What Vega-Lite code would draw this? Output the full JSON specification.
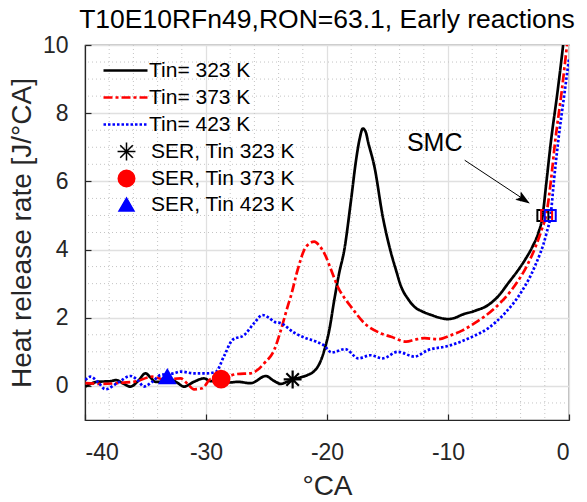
{
  "$schema": "https://vega.github.io/schema/vega-lite/v6.json",
  "width": 484,
  "height": 375,
  "autosize": "none",
  "padding": {"left": 85, "top": 45, "right": 18, "bottom": 82},
  "title": {"text": "T10E10RFn49,RON=63.1, Early reactions", "fontSize": 26.5, "fontWeight": "normal", "color": "#000000", "font": "Liberation Sans", "offset": 1, "anchor": "middle"},
  "config": {
    "font": "Liberation Sans",
    "view": {"stroke": "#262626", "strokeWidth": 1.2},
    "axis": {"labelFont": "Liberation Sans", "labelFontSize": 23, "labelColor": "#262626", "titleFont": "Liberation Sans", "titleFontWeight": "normal", "titleColor": "#262626", "domainColor": "#262626", "domainWidth": 1.2, "tickColor": "#262626", "tickSize": -6, "tickWidth": 1.2, "gridColor": "#e0e0e0", "gridWidth": 1.3},
    "axisX": {"tickCount": 5, "labelPadding": 27, "titlePadding": 8, "titleFontSize": 28, "labelExpr": "replace(datum.label, '\u2212', '-')"},
    "axisY": {"tickCount": 6, "labelPadding": 23, "titlePadding": 6, "titleFontSize": 28},
    "legend": {"labelFont": "Liberation Sans", "labelFontSize": 21, "labelColor": "#000000", "padding": 0}
  },
  "datasets": {
    "gx": [{"x": -38}, {"x": -36}, {"x": -34}, {"x": -32}, {"x": -28}, {"x": -26}, {"x": -24}, {"x": -22}, {"x": -18}, {"x": -16}, {"x": -14}, {"x": -12}, {"x": -8}, {"x": -6}, {"x": -4}, {"x": -2}],
    "gy": [{"y": -0.5}, {"y": 0.5}, {"y": 1}, {"y": 1.5}, {"y": 2.5}, {"y": 3}, {"y": 3.5}, {"y": 4.5}, {"y": 5}, {"y": 5.5}, {"y": 6.5}, {"y": 7}, {"y": 7.5}, {"y": 8.5}, {"y": 9}, {"y": 9.5}],
    "lines": [
      {"s": "Tin= 323 K", "x": -39.97, "y": -0.02},
      {"s": "Tin= 323 K", "x": -39.0, "y": 0.12},
      {"s": "Tin= 323 K", "x": -37.9, "y": 0.14},
      {"s": "Tin= 323 K", "x": -37.4, "y": 0.17},
      {"s": "Tin= 323 K", "x": -36.9, "y": 0.08},
      {"s": "Tin= 323 K", "x": -36.24, "y": -0.02},
      {"s": "Tin= 323 K", "x": -35.6, "y": 0.15},
      {"s": "Tin= 323 K", "x": -35.0, "y": 0.37},
      {"s": "Tin= 323 K", "x": -34.6, "y": 0.25},
      {"s": "Tin= 323 K", "x": -34.17, "y": 0.12},
      {"s": "Tin= 323 K", "x": -33.6, "y": 0.12},
      {"s": "Tin= 323 K", "x": -33.0, "y": 0.2},
      {"s": "Tin= 323 K", "x": -32.4, "y": 0.1},
      {"s": "Tin= 323 K", "x": -31.82, "y": -0.02},
      {"s": "Tin= 323 K", "x": -31.0, "y": 0.12},
      {"s": "Tin= 323 K", "x": -30.17, "y": 0.22},
      {"s": "Tin= 323 K", "x": -29.61, "y": 0.14},
      {"s": "Tin= 323 K", "x": -28.8, "y": 0.13},
      {"s": "Tin= 323 K", "x": -28.0, "y": 0.1},
      {"s": "Tin= 323 K", "x": -27.4, "y": 0.12},
      {"s": "Tin= 323 K", "x": -26.3, "y": 0.08},
      {"s": "Tin= 323 K", "x": -25.05, "y": 0.29},
      {"s": "Tin= 323 K", "x": -24.4, "y": 0.15},
      {"s": "Tin= 323 K", "x": -23.81, "y": 0.06},
      {"s": "Tin= 323 K", "x": -23.3, "y": 0.12},
      {"s": "Tin= 323 K", "x": -22.84, "y": 0.19},
      {"s": "Tin= 323 K", "x": -22.2, "y": 0.25},
      {"s": "Tin= 323 K", "x": -21.6, "y": 0.32},
      {"s": "Tin= 323 K", "x": -21.1, "y": 0.42},
      {"s": "Tin= 323 K", "x": -20.77, "y": 0.56},
      {"s": "Tin= 323 K", "x": -20.5, "y": 0.75},
      {"s": "Tin= 323 K", "x": -20.22, "y": 1.05},
      {"s": "Tin= 323 K", "x": -19.81, "y": 1.64},
      {"s": "Tin= 323 K", "x": -19.4, "y": 2.52},
      {"s": "Tin= 323 K", "x": -19.0, "y": 3.3},
      {"s": "Tin= 323 K", "x": -18.57, "y": 3.99},
      {"s": "Tin= 323 K", "x": -18.01, "y": 5.46},
      {"s": "Tin= 323 K", "x": -17.6, "y": 6.62},
      {"s": "Tin= 323 K", "x": -17.3, "y": 7.25},
      {"s": "Tin= 323 K", "x": -17.04, "y": 7.55},
      {"s": "Tin= 323 K", "x": -16.8, "y": 7.45},
      {"s": "Tin= 323 K", "x": -16.6, "y": 7.15},
      {"s": "Tin= 323 K", "x": -16.08, "y": 6.43},
      {"s": "Tin= 323 K", "x": -15.39, "y": 4.96},
      {"s": "Tin= 323 K", "x": -14.7, "y": 3.89},
      {"s": "Tin= 323 K", "x": -14.3, "y": 3.4},
      {"s": "Tin= 323 K", "x": -13.87, "y": 2.91},
      {"s": "Tin= 323 K", "x": -13.3, "y": 2.55},
      {"s": "Tin= 323 K", "x": -12.77, "y": 2.32},
      {"s": "Tin= 323 K", "x": -12.1, "y": 2.18},
      {"s": "Tin= 323 K", "x": -11.38, "y": 2.08},
      {"s": "Tin= 323 K", "x": -10.6, "y": 1.99},
      {"s": "Tin= 323 K", "x": -10.0, "y": 1.96},
      {"s": "Tin= 323 K", "x": -9.4, "y": 2.0},
      {"s": "Tin= 323 K", "x": -8.9, "y": 2.08},
      {"s": "Tin= 323 K", "x": -7.8, "y": 2.2},
      {"s": "Tin= 323 K", "x": -6.69, "y": 2.37},
      {"s": "Tin= 323 K", "x": -5.8, "y": 2.65},
      {"s": "Tin= 323 K", "x": -5.03, "y": 3.01},
      {"s": "Tin= 323 K", "x": -4.3, "y": 3.35},
      {"s": "Tin= 323 K", "x": -3.65, "y": 3.69},
      {"s": "Tin= 323 K", "x": -3.0, "y": 4.1},
      {"s": "Tin= 323 K", "x": -2.54, "y": 4.48},
      {"s": "Tin= 323 K", "x": -2.2, "y": 4.95},
      {"s": "Tin= 323 K", "x": -1.86, "y": 6.0},
      {"s": "Tin= 323 K", "x": -1.5, "y": 7.15},
      {"s": "Tin= 323 K", "x": -0.94, "y": 8.65},
      {"s": "Tin= 323 K", "x": -0.5, "y": 9.95},
      {"s": "Tin= 323 K", "x": -0.3, "y": 10.6},
      {"s": "Tin= 373 K", "x": -39.97, "y": 0.08},
      {"s": "Tin= 373 K", "x": -38.73, "y": 0.06},
      {"s": "Tin= 373 K", "x": -37.34, "y": 0.08},
      {"s": "Tin= 373 K", "x": -35.68, "y": 0.14},
      {"s": "Tin= 373 K", "x": -34.9, "y": 0.24},
      {"s": "Tin= 373 K", "x": -34.44, "y": 0.27},
      {"s": "Tin= 373 K", "x": -33.48, "y": 0.19},
      {"s": "Tin= 373 K", "x": -32.1, "y": 0.22},
      {"s": "Tin= 373 K", "x": -31.5, "y": 0.05},
      {"s": "Tin= 373 K", "x": -30.99, "y": -0.1},
      {"s": "Tin= 373 K", "x": -30.3, "y": -0.07},
      {"s": "Tin= 373 K", "x": -29.61, "y": 0.2},
      {"s": "Tin= 373 K", "x": -28.8, "y": 0.22},
      {"s": "Tin= 373 K", "x": -27.4, "y": 0.35},
      {"s": "Tin= 373 K", "x": -26.3, "y": 0.37},
      {"s": "Tin= 373 K", "x": -25.7, "y": 0.48},
      {"s": "Tin= 373 K", "x": -25.2, "y": 0.66},
      {"s": "Tin= 373 K", "x": -24.37, "y": 1.05},
      {"s": "Tin= 373 K", "x": -23.81, "y": 1.64},
      {"s": "Tin= 373 K", "x": -23.26, "y": 2.32},
      {"s": "Tin= 373 K", "x": -22.98, "y": 2.64},
      {"s": "Tin= 373 K", "x": -22.43, "y": 3.4},
      {"s": "Tin= 373 K", "x": -21.74, "y": 4.08},
      {"s": "Tin= 373 K", "x": -21.05, "y": 4.23},
      {"s": "Tin= 373 K", "x": -20.6, "y": 4.1},
      {"s": "Tin= 373 K", "x": -20.22, "y": 3.89},
      {"s": "Tin= 373 K", "x": -19.6, "y": 3.35},
      {"s": "Tin= 373 K", "x": -19.11, "y": 2.91},
      {"s": "Tin= 373 K", "x": -18.5, "y": 2.55},
      {"s": "Tin= 373 K", "x": -18.01, "y": 2.32},
      {"s": "Tin= 373 K", "x": -16.91, "y": 1.84},
      {"s": "Tin= 373 K", "x": -15.53, "y": 1.54},
      {"s": "Tin= 373 K", "x": -14.7, "y": 1.44},
      {"s": "Tin= 373 K", "x": -13.46, "y": 1.3},
      {"s": "Tin= 373 K", "x": -12.7, "y": 1.36},
      {"s": "Tin= 373 K", "x": -11.94, "y": 1.4},
      {"s": "Tin= 373 K", "x": -10.83, "y": 1.37},
      {"s": "Tin= 373 K", "x": -9.73, "y": 1.49},
      {"s": "Tin= 373 K", "x": -8.8, "y": 1.63},
      {"s": "Tin= 373 K", "x": -7.8, "y": 1.84},
      {"s": "Tin= 373 K", "x": -6.14, "y": 2.28},
      {"s": "Tin= 373 K", "x": -4.76, "y": 2.81},
      {"s": "Tin= 373 K", "x": -3.37, "y": 3.6},
      {"s": "Tin= 373 K", "x": -2.8, "y": 4.05},
      {"s": "Tin= 373 K", "x": -2.27, "y": 4.57},
      {"s": "Tin= 373 K", "x": -1.86, "y": 5.06},
      {"s": "Tin= 373 K", "x": -1.5, "y": 6.0},
      {"s": "Tin= 373 K", "x": -1.15, "y": 7.15},
      {"s": "Tin= 373 K", "x": -0.6, "y": 8.65},
      {"s": "Tin= 373 K", "x": -0.18, "y": 9.95},
      {"s": "Tin= 373 K", "x": 0.0, "y": 10.5},
      {"s": "Tin= 423 K", "x": -39.97, "y": 0.17},
      {"s": "Tin= 423 K", "x": -39.56, "y": 0.27},
      {"s": "Tin= 423 K", "x": -38.9, "y": 0.1},
      {"s": "Tin= 423 K", "x": -38.32, "y": -0.1},
      {"s": "Tin= 423 K", "x": -37.34, "y": 0.08},
      {"s": "Tin= 423 K", "x": -36.24, "y": 0.29},
      {"s": "Tin= 423 K", "x": -35.6, "y": 0.15},
      {"s": "Tin= 423 K", "x": -35.14, "y": -0.02},
      {"s": "Tin= 423 K", "x": -34.44, "y": 0.12},
      {"s": "Tin= 423 K", "x": -33.75, "y": 0.32},
      {"s": "Tin= 423 K", "x": -32.65, "y": 0.37},
      {"s": "Tin= 423 K", "x": -32.1, "y": 0.42},
      {"s": "Tin= 423 K", "x": -30.99, "y": 0.37},
      {"s": "Tin= 423 K", "x": -29.88, "y": 0.37},
      {"s": "Tin= 423 K", "x": -29.2, "y": 0.41},
      {"s": "Tin= 423 K", "x": -28.5, "y": 0.88},
      {"s": "Tin= 423 K", "x": -27.81, "y": 1.35},
      {"s": "Tin= 423 K", "x": -26.85, "y": 1.49},
      {"s": "Tin= 423 K", "x": -26.02, "y": 1.84},
      {"s": "Tin= 423 K", "x": -25.33, "y": 2.08},
      {"s": "Tin= 423 K", "x": -24.8, "y": 2.0},
      {"s": "Tin= 423 K", "x": -24.37, "y": 1.88},
      {"s": "Tin= 423 K", "x": -23.81, "y": 1.84},
      {"s": "Tin= 423 K", "x": -22.71, "y": 1.56},
      {"s": "Tin= 423 K", "x": -21.88, "y": 1.42},
      {"s": "Tin= 423 K", "x": -20.9, "y": 1.3},
      {"s": "Tin= 423 K", "x": -20.3, "y": 1.2},
      {"s": "Tin= 423 K", "x": -19.6, "y": 0.98},
      {"s": "Tin= 423 K", "x": -18.5, "y": 1.08},
      {"s": "Tin= 423 K", "x": -17.4, "y": 0.81},
      {"s": "Tin= 423 K", "x": -16.4, "y": 0.9},
      {"s": "Tin= 423 K", "x": -15.4, "y": 0.81},
      {"s": "Tin= 423 K", "x": -14.14, "y": 1.0},
      {"s": "Tin= 423 K", "x": -12.77, "y": 0.86},
      {"s": "Tin= 423 K", "x": -11.66, "y": 1.05},
      {"s": "Tin= 423 K", "x": -10.0, "y": 1.17},
      {"s": "Tin= 423 K", "x": -8.07, "y": 1.43},
      {"s": "Tin= 423 K", "x": -6.69, "y": 1.69},
      {"s": "Tin= 423 K", "x": -5.31, "y": 2.13},
      {"s": "Tin= 423 K", "x": -3.93, "y": 2.76},
      {"s": "Tin= 423 K", "x": -2.83, "y": 3.5},
      {"s": "Tin= 423 K", "x": -1.86, "y": 4.48},
      {"s": "Tin= 423 K", "x": -1.5, "y": 5.06},
      {"s": "Tin= 423 K", "x": -1.25, "y": 6.0},
      {"s": "Tin= 423 K", "x": -0.9, "y": 7.15},
      {"s": "Tin= 423 K", "x": -0.35, "y": 8.65},
      {"s": "Tin= 423 K", "x": 0.0, "y": 9.6}
    ],
    "smc": [
      {"s": "Tin= 323 K", "x": -2.16, "y": 5.0},
      {"s": "Tin= 373 K", "x": -1.85, "y": 5.0},
      {"s": "Tin= 423 K", "x": -1.55, "y": 5.0}
    ],
    "ser": [
      {"m": "SER, Tin 323 K", "x": -22.84, "y": 0.19},
      {"m": "SER, Tin 373 K", "x": -28.75, "y": 0.2},
      {"m": "SER, Tin 423 K", "x": -33.2, "y": 0.27}
    ],
    "arrow": [{"x": -8.62, "y": 6.62, "x2": -3.3, "y2": 5.37}],
    "head": [{"x": -3.24, "y": 5.35}],
    "label": [{"x": -11.1, "y": 7.13, "t": "SMC"}]
  },
  "layer": [
    {
      "data": {"name": "gx"},
      "mark": {"type": "rule", "color": "#c4c4c4", "strokeWidth": 1, "strokeDash": [1, 3]},
      "encoding": {
        "x": {"field": "x", "type": "quantitative", "scale": {"domain": [-40, 0], "nice": false}, "title": "°CA"}
      }
    },
    {
      "data": {"name": "gy"},
      "mark": {"type": "rule", "color": "#c4c4c4", "strokeWidth": 1, "strokeDash": [1, 3]},
      "encoding": {
        "y": {"field": "y", "type": "quantitative", "scale": {"domain": [-1, 10], "nice": false}, "title": "Heat release rate [J/°CA]"}
      }
    },
    {
      "data": {"name": "lines"},
      "mark": {"type": "line", "strokeWidth": 2.7, "clip": true, "interpolate": "monotone"},
      "encoding": {
        "x": {"field": "x", "type": "quantitative", "title": "°CA"},
        "y": {"field": "y", "type": "quantitative", "title": "Heat release rate [J/°CA]"},
        "color": {"field": "s", "type": "nominal", "scale": {"domain": ["Tin= 323 K", "Tin= 373 K", "Tin= 423 K"], "range": ["#000000", "#ff0000", "#0000ff"]},
          "legend": {"orient": "none", "legendX": 29, "legendY": 14, "title": null, "symbolType": "M-2.2,0H2.2", "symbolSize": 400, "symbolStrokeWidth": 2.7, "rowPadding": 5, "labelOffset": 12}},
        "strokeDash": {"field": "s", "type": "nominal", "scale": {"domain": ["Tin= 323 K", "Tin= 373 K", "Tin= 423 K"], "range": [[1, 0], [9, 3, 3, 3], [2.5, 2]]},
          "legend": {"orient": "none", "legendX": 29, "legendY": 14, "title": null, "symbolType": "M-2.2,0H2.2", "symbolSize": 400, "symbolStrokeWidth": 2.7, "rowPadding": 5, "labelOffset": 12}}
      }
    },
    {
      "data": {"name": "smc"},
      "mark": {"type": "point", "shape": "square", "filled": false, "size": 121, "strokeWidth": 2, "opacity": 1},
      "encoding": {
        "x": {"field": "x", "type": "quantitative", "title": "°CA"},
        "y": {"field": "y", "type": "quantitative", "title": "Heat release rate [J/°CA]"},
        "color": {"field": "s", "type": "nominal"}
      }
    },
    {
      "data": {"name": "ser"},
      "mark": {"type": "point", "filled": true, "strokeWidth": 2.2, "opacity": 1},
      "encoding": {
        "x": {"field": "x", "type": "quantitative", "title": "°CA"},
        "y": {"field": "y", "type": "quantitative", "title": "Heat release rate [J/°CA]"},
        "shape": {"field": "m", "type": "nominal", "scale": {"domain": ["SER, Tin 323 K", "SER, Tin 373 K", "SER, Tin 423 K"], "range": ["M-1,0L1,0M0,-1L0,1M-0.7,-0.7L0.7,0.7M-0.7,0.7L0.7,-0.7", "circle", "triangle-up"]},
          "legend": {"orient": "none", "legendX": 31, "legendY": 96, "title": null, "labelOffset": 14, "rowPadding": 3}},
        "fill": {"field": "m", "type": "nominal", "scale": {"domain": ["SER, Tin 323 K", "SER, Tin 373 K", "SER, Tin 423 K"], "range": ["#000000", "#ff0000", "#0000ff"]},
          "legend": {"orient": "none", "legendX": 31, "legendY": 96, "title": null, "labelOffset": 14, "rowPadding": 3}},
        "stroke": {"field": "m", "type": "nominal", "scale": {"domain": ["SER, Tin 323 K", "SER, Tin 373 K", "SER, Tin 423 K"], "range": ["#000000", "#ff0000", "#0000ff"]},
          "legend": {"orient": "none", "legendX": 31, "legendY": 96, "title": null, "labelOffset": 14, "rowPadding": 3}},
        "size": {"field": "m", "type": "nominal", "scale": {"domain": ["SER, Tin 323 K", "SER, Tin 373 K", "SER, Tin 423 K"], "range": [320, 225, 430]},
          "legend": {"orient": "none", "legendX": 31, "legendY": 96, "title": null, "labelOffset": 14, "rowPadding": 3}}
      }
    },
    {
      "data": {"name": "arrow"},
      "mark": {"type": "rule", "color": "#000000", "strokeWidth": 1},
      "encoding": {
        "x": {"field": "x", "type": "quantitative"},
        "y": {"field": "y", "type": "quantitative"},
        "x2": {"field": "x2"},
        "y2": {"field": "y2"}
      }
    },
    {
      "data": {"name": "head"},
      "mark": {"type": "point", "shape": "M0,0L-2,-0.7L-1.6,0L-2,0.7Z", "filled": true, "color": "#000000", "size": 200, "angle": 33.7, "opacity": 1},
      "encoding": {
        "x": {"field": "x", "type": "quantitative"},
        "y": {"field": "y", "type": "quantitative"}
      }
    },
    {
      "data": {"name": "label"},
      "mark": {"type": "text", "fontSize": 25, "font": "Liberation Sans", "color": "#000000", "align": "center", "baseline": "middle"},
      "encoding": {
        "x": {"field": "x", "type": "quantitative"},
        "y": {"field": "y", "type": "quantitative"},
        "text": {"field": "t"}
      }
    }
  ]
}
